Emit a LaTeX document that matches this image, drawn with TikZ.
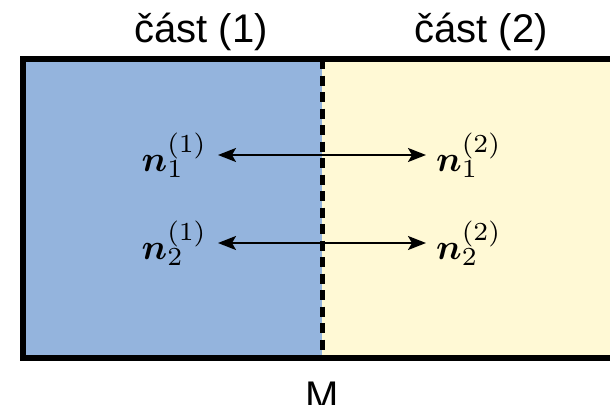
\RequirePackage{fix-cm}
\documentclass[tikz,border=0pt]{standalone}
\usepackage[no-math]{fontspec}
\newfontfamily\arialf{Liberation Sans}
\usepackage{bm}
\DeclareFontFamily{OT1}{cmrseven}{}
\DeclareFontShape{OT1}{cmrseven}{m}{n}{<-> cmr7}{}
\DeclareSymbolFont{operators}{OT1}{cmrseven}{m}{n}
\DeclareMathSizes{36}{36}{26}{18}
\usetikzlibrary{arrows.meta}
\definecolor{partblue}{RGB}{148,180,221}
\definecolor{partyellow}{RGB}{255,249,213}
\begin{document}
\begin{tikzpicture}[x=1pt,y=-1pt,
  lbl/.style={font=\arialf\fontsize{40}{48}\selectfont, inner sep=0pt, anchor=base},
  vec/.style={font=\fontsize{36}{42}\selectfont, inner sep=0pt},
  tip/.tip={Stealth[length=18pt,width=14pt,inset=4pt]},
  link/.style={tip-tip, line width=2pt}]
\useasboundingbox (0,0) rectangle (610,404);
\fill[partblue] (23,59) rectangle (322,357.5);
\fill[partyellow] (322,59) rectangle (620,357.5);
\draw[line width=6pt, line join=miter] (620,59) -- (23,59) -- (23,357.5) -- (620,357.5);
\draw[line width=5pt, dash pattern=on 10pt off 6.5pt] (322,59) -- (322,357.5);
\node[lbl] (c1) at (201,43) {část (1)};
\node[lbl] (c2) at (481,43) {část (2)};
\node[lbl] (m) at (322,409) {M};
\node[vec, anchor=east] (a1) at (206,155) {$\bm{n}_1^{(1)}$};
\node[vec, anchor=west] (b1) at (436,155) {$\bm{n}_1^{(2)}$};
\node[vec, anchor=east] (a2) at (206,243) {$\bm{n}_2^{(1)}$};
\node[vec, anchor=west] (b2) at (436,243) {$\bm{n}_2^{(2)}$};
\draw[link, shorten <=12pt, shorten >=10pt] (a1.east) -- (b1.west);
\draw[link, shorten <=12pt, shorten >=10pt] (a2.east) -- (b2.west);
\end{tikzpicture}
\end{document}
